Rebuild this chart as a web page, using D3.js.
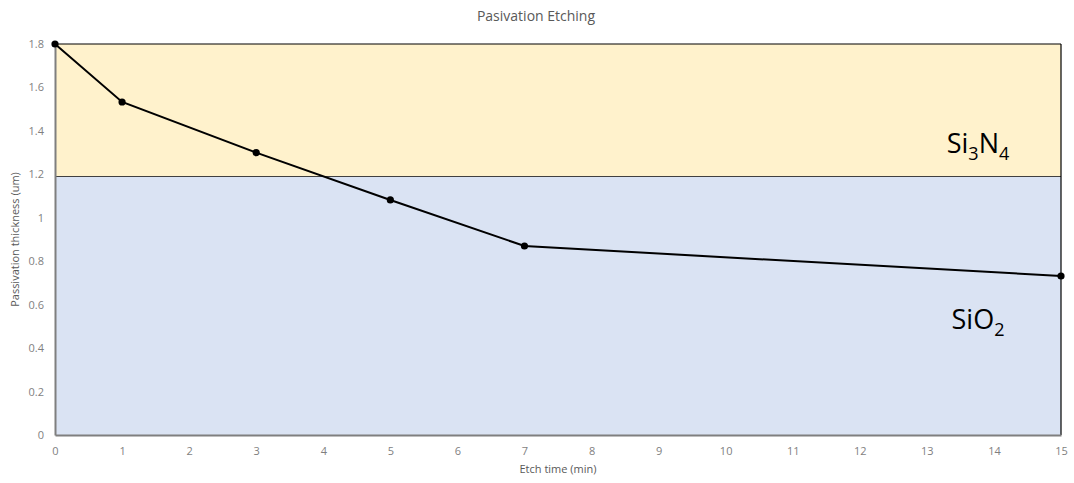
<!DOCTYPE html>
<html>
<head>
<meta charset="utf-8">
<script src="https://cdn.jsdelivr.net/npm/d3@7"></script>
<style>
  html, body { margin: 0; padding: 0; background: #fff; }
  svg { display: block; font-family: "Open Sans", "Noto Sans", sans-serif; }
</style>
</head>
<body>
<svg id="chart" width="1074" height="483"></svg>
<script>
// Etch time (min) and remaining passivation thickness (um)
const etchTimes = [0, 1, 3, 5, 7, 15];
const thickness = [1.8, 1.533, 1.3, 1.082, 0.87, 0.732];
// Layer boundary: Si3N4 on top of SiO2
const layerBoundary = 1.19;
const xTicks = [0, 1, 2, 3, 4, 5, 6, 7, 8, 9, 10, 11, 12, 13, 14, 15];
const yTicks = [0, 0.2, 0.4, 0.6, 0.8, 1, 1.2, 1.4, 1.6, 1.8];

const svg = d3.select("#chart");
const m = { left: 55, right: 1061, top: 44, bottom: 435 };

const x = d3.scaleLinear().domain([0, 15]).range([m.left, m.right]);
const y = d3.scaleLinear().domain([0, 1.8]).range([m.bottom, m.top]);

// Layer bands
svg.append("rect")
  .attr("x", x(0)).attr("y", y(1.8))
  .attr("width", x(15) - x(0)).attr("height", y(layerBoundary) - y(1.8))
  .attr("fill", "#FFF2CC");
svg.append("rect")
  .attr("x", x(0)).attr("y", y(layerBoundary))
  .attr("width", x(15) - x(0)).attr("height", y(0) - y(layerBoundary))
  .attr("fill", "#DAE3F3");

// Band outlines
svg.append("line")
  .attr("x1", x(0)).attr("x2", x(15))
  .attr("y1", y(layerBoundary)).attr("y2", y(layerBoundary))
  .attr("stroke", "#404040").attr("stroke-width", 1.2);
svg.append("line")
  .attr("x1", x(0)).attr("x2", x(15))
  .attr("y1", y(1.8)).attr("y2", y(1.8))
  .attr("stroke", "#000").attr("stroke-width", 1.2);
svg.append("line")
  .attr("x1", x(15)).attr("x2", x(15))
  .attr("y1", y(1.8)).attr("y2", y(0))
  .attr("stroke", "#000").attr("stroke-width", 1.2);

// Axes
const xAxis = d3.axisBottom(x).tickValues(xTicks).tickSize(0).tickPadding(12)
  .tickFormat(d3.format("d"));
const gx = svg.append("g").attr("transform", `translate(0,${y(0)})`).call(xAxis);
gx.select(".domain").attr("stroke", "#7f7f7f").attr("stroke-width", 2);
gx.selectAll("text").attr("fill", "#7f7f7f").attr("font-size", 11)
  .attr("font-family", "Open Sans, sans-serif");

const yAxis = d3.axisLeft(y).tickValues(yTicks).tickSize(0).tickPadding(11)
  .tickFormat(d => d3.format("")(+d.toFixed(1)));
const gy = svg.append("g").attr("transform", `translate(${x(0)},0)`).call(yAxis);
gy.select(".domain").attr("stroke", "#7f7f7f").attr("stroke-width", 2);
gy.selectAll("text").attr("fill", "#7f7f7f").attr("font-size", 11)
  .attr("font-family", "Open Sans, sans-serif");

// Thickness curve
const pts = etchTimes.map((t, i) => [t, thickness[i]]);
svg.append("path")
  .datum(pts)
  .attr("fill", "none").attr("stroke", "#000").attr("stroke-width", 2)
  .attr("d", d3.line().x(d => x(d[0])).y(d => y(d[1])));
svg.selectAll("circle.pt").data(pts).enter().append("circle")
  .attr("class", "pt")
  .attr("cx", d => x(d[0])).attr("cy", d => y(d[1])).attr("r", 3.6)
  .attr("fill", "#000");

// Titles
svg.append("text").attr("x", 536).attr("y", 21).attr("text-anchor", "middle")
  .attr("fill", "#595959").attr("font-size", 14).text("Pasivation Etching");
svg.append("text").attr("x", 558).attr("y", 473).attr("text-anchor", "middle")
  .attr("fill", "#595959").attr("font-size", 11).text("Etch time (min)");
svg.append("text")
  .attr("transform", `translate(19,${(y(0) + y(1.8)) / 2}) rotate(-90)`)
  .attr("text-anchor", "middle").attr("fill", "#595959").attr("font-size", 11)
  .text("Passivation thickness (um)");

// Layer labels
const lab1 = svg.append("text").attr("x", 978).attr("y", 153).attr("text-anchor", "middle")
  .attr("fill", "#000").attr("font-size", 27);
lab1.append("tspan").text("Si");
lab1.append("tspan").attr("font-size", 18).attr("dy", 7).text("3");
lab1.append("tspan").attr("dy", -7).text("N");
lab1.append("tspan").attr("font-size", 18).attr("dy", 7).text("4");

const lab2 = svg.append("text").attr("x", 978).attr("y", 329).attr("text-anchor", "middle")
  .attr("fill", "#000").attr("font-size", 27);
lab2.append("tspan").text("SiO");
lab2.append("tspan").attr("font-size", 18).attr("dy", 7).text("2");
</script>
</body>
</html>
